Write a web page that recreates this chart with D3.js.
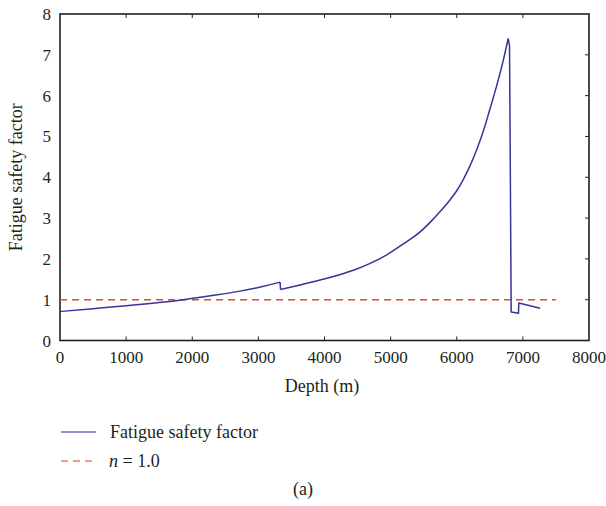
<!DOCTYPE html>
<html>
<head>
<meta charset="utf-8">
<script src="https://cdn.jsdelivr.net/npm/d3@7"></script>
<style>
  body { margin: 0; background: #fff; }
  svg text { font-family: "Liberation Serif", "DejaVu Serif", serif; fill: #231f20; }
</style>
</head>
<body>
<svg id="chart" width="606" height="506"></svg>
<script>
// depth (m) vs fatigue safety factor
let depth = [0, 500, 1000, 1500, 1866, 2300, 2723, 3000, 3328, 3335, 3631, 3933, 4200, 4437,
  4690, 4942, 5194, 5446, 5600, 5749, 5900, 6000, 6100, 6200, 6300, 6400, 6500, 6600, 6700,
  6778, 6798, 6808, 6823, 6934, 6938, 7262];
let safety = [0.71, 0.78, 0.85, 0.93, 1.0, 1.10, 1.21, 1.30, 1.43, 1.25, 1.36, 1.48, 1.60, 1.72,
  1.89, 2.10, 2.37, 2.66, 2.90, 3.16, 3.45, 3.67, 3.95, 4.28, 4.67, 5.12, 5.66, 6.22, 6.84,
  7.40, 7.22, 4.74, 0.70, 0.67, 0.92, 0.79];
// indices where the curve jumps (drawn straight, not smoothed)
let breaks = [8, 29];
let refDepth = [0, 7500];
let refValue = [1.0, 1.0];
let xTicks = [0, 1000, 2000, 3000, 4000, 5000, 6000, 7000, 8000];
let yTicks = [0, 1, 2, 3, 4, 5, 6, 7, 8];

let svg = d3.select("#chart");
let mLeft = 60, mRight = 589, mTop = 14, mBottom = 340.5;

let x = d3.scaleLinear().domain([0, 8000]).range([mLeft, mRight]);
let y = d3.scaleLinear().domain([0, 8]).range([mBottom, mTop]);

// frame
svg.append("rect")
    .attr("x", mLeft).attr("y", mTop)
    .attr("width", mRight - mLeft).attr("height", mBottom - mTop)
    .attr("fill", "none").attr("stroke", "#231f20").attr("stroke-width", 1.6);

// inward ticks on bottom / top / right
let tickG = svg.append("g").attr("stroke", "#231f20").attr("stroke-width", 1);
xTicks.slice(1, -1).forEach(function (t) {
    tickG.append("line").attr("x1", x(t)).attr("x2", x(t)).attr("y1", mBottom).attr("y2", mBottom - 4);
    tickG.append("line").attr("x1", x(t)).attr("x2", x(t)).attr("y1", mTop).attr("y2", mTop + 4);
});
yTicks.slice(1, -1).forEach(function (t) {
    tickG.append("line").attr("x1", mRight).attr("x2", mRight - 4).attr("y1", y(t)).attr("y2", y(t));
});

// tick labels
svg.append("g").selectAll("text")
    .data(xTicks).enter().append("text")
    .attr("x", d => x(d)).attr("y", 363)
    .attr("text-anchor", "middle").attr("font-size", 17)
    .text(d => d);
svg.append("g").selectAll("text")
    .data(yTicks).enter().append("text")
    .attr("x", 51).attr("y", d => y(d) + 6)
    .attr("text-anchor", "end").attr("font-size", 17)
    .text(d => d);

// axis titles
svg.append("text")
    .attr("x", 322).attr("y", 392)
    .attr("text-anchor", "middle").attr("font-size", 18)
    .text("Depth (m)");
svg.append("text")
    .attr("transform", "translate(22," + ((mTop + mBottom) / 2) + ") rotate(-90)")
    .attr("text-anchor", "middle").attr("font-size", 18)
    .text("Fatigue safety factor");

// reference line n = 1.0
let refLine = d3.line().x((d, i) => x(refDepth[i])).y((d, i) => y(refValue[i]));
svg.append("path")
    .attr("d", refLine(refDepth))
    .attr("fill", "none").attr("stroke", "#e44b33").attr("stroke-width", 1.5)
    .attr("stroke-dasharray", "7,5");

// safety factor curve: smooth pieces between the jumps, straight through the jumps
let pts = depth.map((d, i) => [x(d), y(safety[i])]);
let smooth = d3.line().curve(d3.curveMonotoneX);
let straight = d3.line();
let pieces = [
    smooth(pts.slice(0, breaks[0] + 1)),
    straight(pts.slice(breaks[0], breaks[0] + 2)),
    smooth(pts.slice(breaks[0] + 1, breaks[1] + 1)),
    straight(pts.slice(breaks[1]))
];
svg.append("path")
    .attr("d", pieces.join(""))
    .attr("fill", "none").attr("stroke", "#35359a").attr("stroke-width", 1.5)
    .attr("stroke-linejoin", "round");

// legend
svg.append("line").attr("x1", 61).attr("x2", 96).attr("y1", 432).attr("y2", 432)
    .attr("stroke", "#6b6bbd").attr("stroke-width", 1.6);
svg.append("text").attr("x", 110).attr("y", 438).attr("font-size", 18)
    .text("Fatigue safety factor");
svg.append("line").attr("x1", 61).attr("x2", 96).attr("y1", 461).attr("y2", 461)
    .attr("stroke", "#f07a60").attr("stroke-width", 1.6)
    .attr("stroke-dasharray", "7,5");
let nText = svg.append("text").attr("x", 109).attr("y", 467).attr("font-size", 18);
nText.append("tspan").attr("font-style", "italic").text("n");
nText.append("tspan").text(" = 1.0");

svg.append("text").attr("x", 303).attr("y", 495)
    .attr("text-anchor", "middle").attr("font-size", 18)
    .text("(a)");
</script>
</body>
</html>
